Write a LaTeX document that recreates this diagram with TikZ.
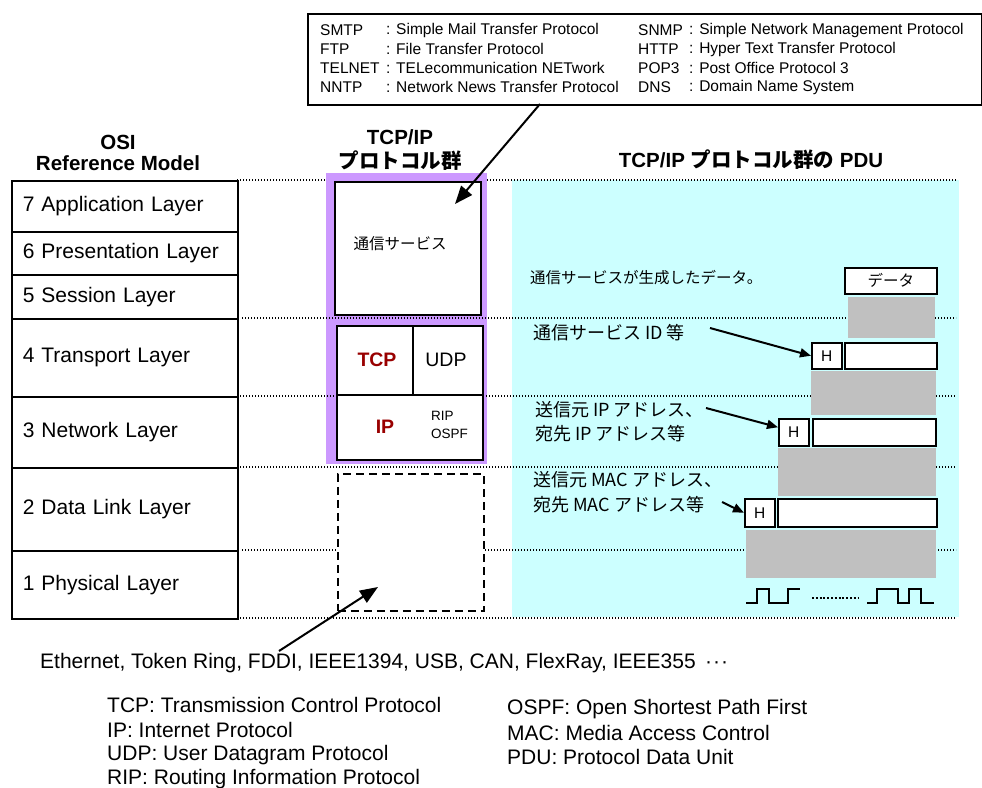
\documentclass[tikz,border=0pt]{standalone}
\usepackage{fontspec}
\setmainfont{Liberation Sans}
\newfontfamily\jp{Noto Sans CJK JP}
\usetikzlibrary{arrows.meta,calc}
\definecolor{cyanbg}{HTML}{CCFFFF}
\definecolor{purp}{HTML}{CC99FF}
\definecolor{dred}{HTML}{990000}
\definecolor{grayblk}{HTML}{C0C0C0}
\tikzset{
  layer/.style={draw, line width=1.5pt, anchor=north west, minimum width=226pt, text width=204pt, inner xsep=11pt, inner ysep=0pt, align=left, font=\fontsize{21}{24}\selectfont},
  wbox/.style={draw, line width=1.5pt, fill=white, anchor=north west, inner sep=0pt},
  hbox/.style={wbox, minimum width=30pt, font=\fontsize{15.5}{18}\selectfont},
  dotline/.style={line width=1.4pt, dash pattern=on 1.4pt off 1.6pt},
  bigarr/.style={line width=2pt, -{Triangle[length=18pt,width=14pt]}},
  smarr/.style={line width=2pt, -{Triangle[length=11pt,width=9pt]}},
  lbl/.style={anchor=west, inner sep=0pt, font=\fontsize{18}{20}\selectfont},
  legend/.style={anchor=west, inner sep=0pt, font=\fontsize{21}{24}\selectfont},
  toptxt/.style={anchor=west, inner sep=0pt, font=\fontsize{15.5}{17}\selectfont},
  head/.style={inner sep=0pt, font=\fontsize{20.5}{24}\selectfont\bfseries},
}
\begin{document}
\begin{tikzpicture}[x=1pt,y=-1pt]
\useasboundingbox (0,0) rectangle (982,787);

% top box of abbreviations
\node[wbox, minimum width=674pt, minimum height=91pt] (topbox) at (307,13) {};
\node[toptxt] (a1) at (320,30) {SMTP};
\node[toptxt] (a2) at (320,49) {FTP};
\node[toptxt] (a3) at (320,68) {TELNET};
\node[toptxt] (a4) at (320,87) {NNTP};
\node[toptxt] (d1) at (386,30) {: Simple Mail Transfer Protocol};
\node[toptxt] (d2) at (386,49) {: File Transfer Protocol};
\node[toptxt] (d3) at (386,68) {: TELecommunication NETwork};
\node[toptxt] (d4) at (386,87) {: Network News Transfer Protocol};
\node[toptxt] (b1) at (638,30) {SNMP};
\node[toptxt] (b2) at (638,49) {HTTP};
\node[toptxt] (b3) at (638,68) {POP3};
\node[toptxt] (b4) at (638,87) {DNS};
\node[toptxt] (e1) at (689,30) {: Simple Network Management Protocol};
\node[toptxt] (e2) at (689,49) {: Hyper Text Transfer Protocol};
\node[toptxt] (e3) at (689,68) {: Post Office Protocol 3};
\node[toptxt] (e4) at (689,87) {: Domain Name System};

% headers
\node[head] (osi1) at (118,142) {OSI};
\node[head] (osi2) at (118,163) {Reference Model};
\node[head] (tcp1) at (400,137) {TCP/IP};
\node[head] (tcp2) at (400,161) {\jp プロトコル群};
\node[head] (pdu) at (751,160) {TCP/IP {\jp プロトコル群の} PDU};

% backgrounds
\fill[cyanbg] (512,180) rectangle (959,617);
\node[fill=purp, anchor=north west, inner sep=0pt, minimum width=161pt, minimum height=291pt] (tcpip) at (326,173) {};

% dotted layer lines
\draw[dotline] (237,180) -- (326,180);
\draw[dotline] (487,180) -- (956,180);
\draw[dotline] (242,318) -- (956,318);
\draw[dotline] (237,396) -- (956,396);
\draw[dotline] (237,467) -- (956,467);
\draw[dotline] (242,550) -- (956,550);
\draw[dotline] (237,618) -- (956,618);

% OSI table
\node[layer, minimum height=51pt] (l7) at (11,180) {7 Application Layer};
\node[layer, minimum height=43pt] (l6) at (11,231) {6 Presentation Layer};
\node[layer, minimum height=44pt] (l5) at (11,274) {5 Session Layer};
\node[layer, minimum height=78pt] (l4) at (11,318) {4 Transport Layer};
\node[layer, minimum height=71pt] (l3) at (11,396) {3 Network Layer};
\node[layer, minimum height=83pt] (l2) at (11,467) {2 Data Link Layer};
\node[layer, minimum height=68pt] (l1) at (11,550) {1 Physical Layer};

% TCP/IP stack
\node[wbox, minimum width=146pt, minimum height=133pt] (app) at (334,181) {};
\node[inner sep=0pt, font=\fontsize{15.5}{18}\selectfont\jp] (apptxt) at (400,244) {通信サービス};
\node[wbox, minimum width=146pt, minimum height=134pt] (trans) at (336,325) {};
\draw[line width=1.5pt] (trans.west |- 0,395) -- (trans.east |- 0,395);
\draw[line width=1.5pt] (413,325) -- (413,395);
\node[inner sep=0pt, text=dred, font=\fontsize{19.5}{22}\selectfont\bfseries] (tcp) at (377,360) {TCP};
\node[inner sep=0pt, font=\fontsize{19.5}{22}\selectfont] (udp) at (446,360) {UDP};
\node[inner sep=0pt, text=dred, font=\fontsize{19.5}{22}\selectfont\bfseries] (ip) at (385,427) {IP};
\node[anchor=west, inner sep=0pt, font=\fontsize{13.5}{15}\selectfont] (rip) at (431,416) {RIP};
\node[anchor=west, inner sep=0pt, font=\fontsize{13.5}{15}\selectfont] (ospf) at (431,434) {OSPF};
\node[draw, line width=1.5pt, dash pattern=on 8pt off 5pt, fill=white, anchor=north west, inner sep=0pt, minimum width=146pt, minimum height=137pt] (phys) at (337,473) {};

% PDU column
\node[inner sep=0pt, anchor=west, font=\fontsize{15.5}{18}\selectfont\jp] (gen) at (530,278) {通信サービスが生成したデータ。};
\node[wbox, minimum width=92pt, minimum height=26pt, font=\fontsize{15.5}{18}\selectfont\jp] (data0) at (844,267) {データ};
\fill[grayblk] (848,297) rectangle (935,338);
\node[hbox, minimum height=26pt] (h1) at (811,342) {H};
\node[wbox, minimum width=92pt, minimum height=26pt] (p1) at (844,342) {};
\fill[grayblk] (811,371) rectangle (936,415);
\node[hbox, minimum height=27pt] (h2) at (778,418) {H};
\node[wbox, minimum width=123pt, minimum height=27pt] (p2) at (812,418) {};
\fill[grayblk] (778,448) rectangle (936,496);
\node[hbox, minimum height=28pt] (h3) at (744,498) {H};
\node[wbox, minimum width=159pt, minimum height=28pt] (p3) at (777,498) {};
\fill[grayblk] (746,530) rectangle (936,578);

\node[lbl] (idl) at (533,333) {\jp 通信サービス ID 等};
\node[lbl] (ipl1) at (535,410) {\jp 送信元 IP アドレス、};
\node[lbl] (ipl2) at (535,434) {\jp 宛先 IP アドレス等};
\node[lbl] (macl1) at (533,480) {\jp 送信元 MAC アドレス、};
\node[lbl] (macl2) at (533,505) {\jp 宛先 MAC アドレス等};

\coordinate (idtail) at (710,328);
\coordinate (iptail) at (706,408);
\coordinate (mactail) at (722,502);
\draw[smarr] (idtail) -- (h1.west);
\draw[smarr] (iptail) -- ($(h2.west)+(0,-5)$);
\draw[smarr] (mactail) -- (h3.west);

% signal
\draw[line width=1.5pt] (746,603) -- (757,603) -- (757,589) -- (769,589) -- (769,603) -- (788,603) -- (788,589) -- (800,589);
\draw[line width=2.6pt, dash pattern=on 2pt off 1.8pt] (812,598) -- (858,598);
\draw[line width=1.5pt] (867,603) -- (877,603) -- (877,589) -- (898,589) -- (898,603) -- (909,603) -- (909,589) -- (921,589) -- (921,603) -- (934,603);

% bottom text
\node[legend] (eth) at (40,663) {Ethernet, Token Ring, FDDI, IEEE1394, USB, CAN, FlexRay, IEEE355 \,·\kern1pt·\kern1pt·};
\node[legend] (g1) at (107,705) {TCP: Transmission Control Protocol};
\node[legend] (g2) at (107,730) {IP: Internet Protocol};
\node[legend] (g3) at (107,755) {UDP: User Datagram Protocol};
\node[legend] (g4) at (107,779) {RIP: Routing Information Protocol};
\node[legend] (g5) at (507,709) {OSPF: Open Shortest Path First};
\node[legend] (g6) at (507,733) {MAC: Media Access Control};
\node[legend] (g7) at (507,757) {PDU: Protocol Data Unit};

% big arrows
\coordinate (toptail) at (540,104);
\coordinate (apptip) at (455,204);
\coordinate (ethtail) at (279,651);
\coordinate (phystip) at (378,587);
\draw[bigarr] (toptail) -- (apptip);
\draw[bigarr] (ethtail) -- (phystip);
\end{tikzpicture}
\end{document}
